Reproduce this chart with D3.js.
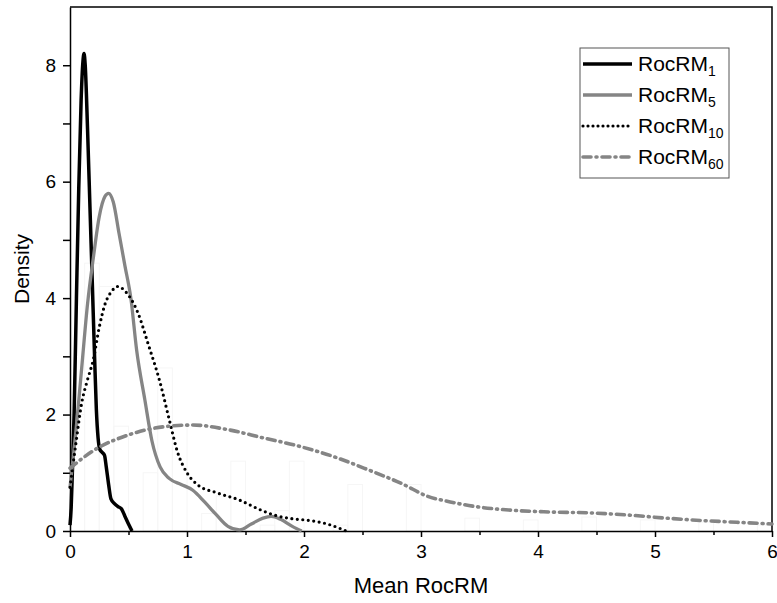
<!DOCTYPE html>
<html>
<head>
<meta charset="utf-8">
<script src="https://cdn.jsdelivr.net/npm/d3@7"></script>
<style>
  body { margin: 0; background: #fff; }
  text { font-family: "Liberation Sans", Arial, sans-serif; }
</style>
</head>
<body>
<script>
const w = 777;
const h = 603;
const margin = { top: 7, right: 5, bottom: 72, left: 70 };

// density curves
const x1 = [0, 0.01, 0.02, 0.035, 0.055, 0.075, 0.095, 0.11, 0.12, 0.13, 0.15, 0.17, 0.19, 0.21, 0.225, 0.24, 0.255, 0.275, 0.295, 0.31, 0.33, 0.35, 0.38, 0.41, 0.44, 0.47, 0.5, 0.53];
const y1 = [0.1, 0.4, 1.0, 2.0, 4.0, 5.9, 7.4, 8.05, 8.2, 8.0, 6.9, 5.6, 4.3, 3.0, 2.1, 1.6, 1.4, 1.35, 1.3, 1.1, 0.8, 0.55, 0.47, 0.42, 0.38, 0.25, 0.12, 0.0];

const x5 = [0, 0.05, 0.1, 0.15, 0.2, 0.25, 0.3, 0.33, 0.37, 0.42, 0.47, 0.52, 0.57, 0.64, 0.7, 0.77, 0.85, 0.95, 1.05, 1.15, 1.25, 1.35, 1.45, 1.55, 1.65, 1.72, 1.8, 1.9, 1.98];
const y5 = [0.75, 1.7, 2.8, 3.9, 4.7, 5.4, 5.75, 5.8, 5.65, 5.1, 4.55, 4.0, 3.1, 2.25, 1.55, 1.1, 0.9, 0.8, 0.7, 0.5, 0.28, 0.08, 0.02, 0.12, 0.22, 0.25, 0.2, 0.08, 0.0];

const x10 = [0, 0.05, 0.1, 0.15, 0.2, 0.25, 0.3, 0.35, 0.41, 0.48, 0.58, 0.67, 0.77, 0.85, 0.92, 1.0, 1.1, 1.25, 1.45, 1.62, 1.77, 1.9, 2.05, 2.2, 2.3, 2.36];
const y10 = [0.75, 1.5, 2.2, 2.6, 2.95, 3.5, 3.9, 4.1, 4.2, 4.1, 3.75, 3.2, 2.55, 1.9, 1.35, 1.0, 0.78, 0.66, 0.53, 0.37, 0.26, 0.21, 0.18, 0.12, 0.05, 0.0];

const x60 = [0, 0.2, 0.5, 0.8, 1.05, 1.35, 1.65, 1.95, 2.25, 2.55, 2.85, 3.05, 3.25, 3.5, 3.75, 4.05, 4.45, 4.8, 5.1, 5.4, 5.7, 6.0];
const y60 = [1.08, 1.38, 1.65, 1.79, 1.82, 1.74, 1.6, 1.46, 1.28, 1.05, 0.8, 0.6, 0.5, 0.41, 0.36, 0.33, 0.31, 0.27, 0.22, 0.18, 0.15, 0.12];

// faint histogram behind the curves, bins of 0.5
const binStarts = [0, 0.5, 1, 1.5, 2, 2.5, 3, 3.5, 4, 4.5, 5, 5.5];
const hist1 = [2.0, 0, 0, 0, 0, 0, 0, 0, 0, 0, 0, 0];
const hist5 = [4.6, 1.0, 0.3, 0.1, 0, 0, 0, 0, 0, 0, 0, 0];
const hist10 = [4.2, 2.8, 0.6, 0.35, 0.1, 0, 0, 0, 0, 0, 0, 0];
const hist60 = [1.8, 1.8, 1.2, 1.2, 0.8, 0.8, 0.22, 0.19, 0.24, 0.19, 0.15, 0.1];

const xTicks = [0, 1, 2, 3, 4, 5, 6];
const yTicks = [0, 2, 4, 6, 8];

const series = [
  { name: "RocRM", sub: "1", xs: x1, ys: y1, hist: hist1, color: "#000", width: 3.5, dash: null },
  { name: "RocRM", sub: "5", xs: x5, ys: y5, hist: hist5, color: "#858585", width: 3.3, dash: null },
  { name: "RocRM", sub: "10", xs: x10, ys: y10, hist: hist10, color: "#000", width: 3.2, dash: "0 5.5" },
  { name: "RocRM", sub: "60", xs: x60, ys: y60, hist: hist60, color: "#858585", width: 3.6, dash: "8 5 1 5" }
];

const svg = d3
  .select("body")
  .append("svg")
  .attr("width", w)
  .attr("height", h);

const xScale = d3
  .scaleLinear()
  .domain([0, 6])
  .range([margin.left, w - margin.right]);
const yScale = d3
  .scaleLinear()
  .domain([0, 9])
  .range([h - margin.bottom, margin.top]);

// histogram outlines (barely visible in the original)
const subW = 0.125;
series.forEach((s, k) => {
  svg
    .append("g")
    .selectAll("rect")
    .data(binStarts.map((b, i) => ({ b: b, v: s.hist[i] })).filter(d => d.v > 0))
    .enter()
    .append("rect")
    .attr("x", d => xScale(d.b + k * subW))
    .attr("y", d => yScale(d.v))
    .attr("width", xScale(subW) - xScale(0))
    .attr("height", d => yScale(0) - yScale(d.v))
    .attr("fill", "none")
    .attr("stroke", "#f6f6f6")
    .attr("stroke-width", 1);
});

// x axis with minor ticks
const xAxis = d3.axisBottom(xScale).tickValues(xTicks).tickFormat(d3.format("d")).tickSize(6).tickSizeOuter(0);
const xMinor = d3.axisBottom(xScale).tickValues(xTicks.slice(0, -1).map(d => d + 0.5)).tickFormat("").tickSize(4).tickSizeOuter(0);

svg
  .append("g")
  .attr("transform", "translate(0," + yScale(0) + ")")
  .call(xMinor)
  .call(g => g.select(".domain").remove())
  .selectAll("line").attr("stroke-width", 1.5);

svg
  .append("g")
  .attr("id", "x-axis")
  .attr("transform", "translate(0," + yScale(0) + ")")
  .call(xAxis)
  .call(g => g.select(".domain").attr("stroke-width", 1.5))
  .call(g => g.selectAll("line").attr("stroke-width", 1.5))
  .call(g => g.selectAll("text").attr("dy", "0.95em"))
  .style("font-size", "19px")
  .style("font-family", "Liberation Sans, Arial, sans-serif");

// y axis with minor ticks
const yAxis = d3.axisLeft(yScale).tickValues(yTicks).tickSize(7).tickSizeOuter(0);
const yMinor = d3.axisLeft(yScale).tickValues([1, 3, 5, 7]).tickFormat("").tickSize(7).tickSizeOuter(0);

svg
  .append("g")
  .attr("transform", "translate(" + margin.left + ",0)")
  .call(yMinor)
  .call(g => g.select(".domain").remove())
  .selectAll("line").attr("stroke-width", 1.5);

svg
  .append("g")
  .attr("id", "y-axis")
  .attr("transform", "translate(" + margin.left + ",0)")
  .call(yAxis)
  .call(g => g.select(".domain").attr("stroke-width", 1.5))
  .call(g => g.selectAll("line").attr("stroke-width", 1.5))
  .call(g => g.selectAll("text").attr("x", -14))
  .style("font-size", "19px")
  .style("font-family", "Liberation Sans, Arial, sans-serif");

// top and right frame
svg
  .append("path")
  .attr("d", "M" + xScale(0) + "," + yScale(9) + "H" + xScale(6) + "V" + yScale(0))
  .attr("fill", "none")
  .attr("stroke", "#000")
  .attr("stroke-width", 1.5);

// curves
const line = d3
  .line()
  .x(d => xScale(d[0]))
  .y(d => yScale(d[1]))
  .curve(d3.curveMonotoneX);

series.forEach(s => {
  svg
    .append("path")
    .datum(s.xs.map((x, i) => [x, s.ys[i]]))
    .attr("d", line)
    .attr("fill", "none")
    .attr("stroke", s.color)
    .attr("stroke-width", s.width)
    .attr("stroke-linecap", s.dash ? "round" : "butt")
    .attr("stroke-linejoin", "round")
    .attr("stroke-dasharray", s.dash);
});

// axis titles
svg
  .append("text")
  .attr("x", (xScale(0) + xScale(6)) / 2)
  .attr("y", h - 10)
  .attr("text-anchor", "middle")
  .style("font-size", "22px")
  .text("Mean RocRM");

svg
  .append("text")
  .attr("transform", "translate(29," + yScale(4.5) + ") rotate(-90)")
  .attr("text-anchor", "middle")
  .style("font-size", "21px")
  .text("Density");

// legend
const legend = svg.append("g").attr("transform", "translate(580,48)");
legend
  .append("rect")
  .attr("width", 149)
  .attr("height", 130)
  .attr("fill", "#fff")
  .attr("stroke", "#555")
  .attr("stroke-width", 1);

series.forEach((s, i) => {
  const yy = 16 + i * 31;
  legend
    .append("line")
    .attr("x1", 3)
    .attr("x2", 52)
    .attr("y1", yy)
    .attr("y2", yy)
    .attr("stroke", s.color)
    .attr("stroke-width", s.width)
    .attr("stroke-linecap", s.dash ? "round" : "butt")
    .attr("stroke-dasharray", s.dash ? (i === 2 ? "0 5" : "8 5 1 5") : null);
  const t = legend
    .append("text")
    .attr("x", 58)
    .attr("y", yy + 7)
    .style("font-size", "21px")
    .text(s.name);
  t.append("tspan")
    .attr("dy", 5)
    .style("font-size", "14px")
    .text(s.sub);
});
</script>
</body>
</html>
